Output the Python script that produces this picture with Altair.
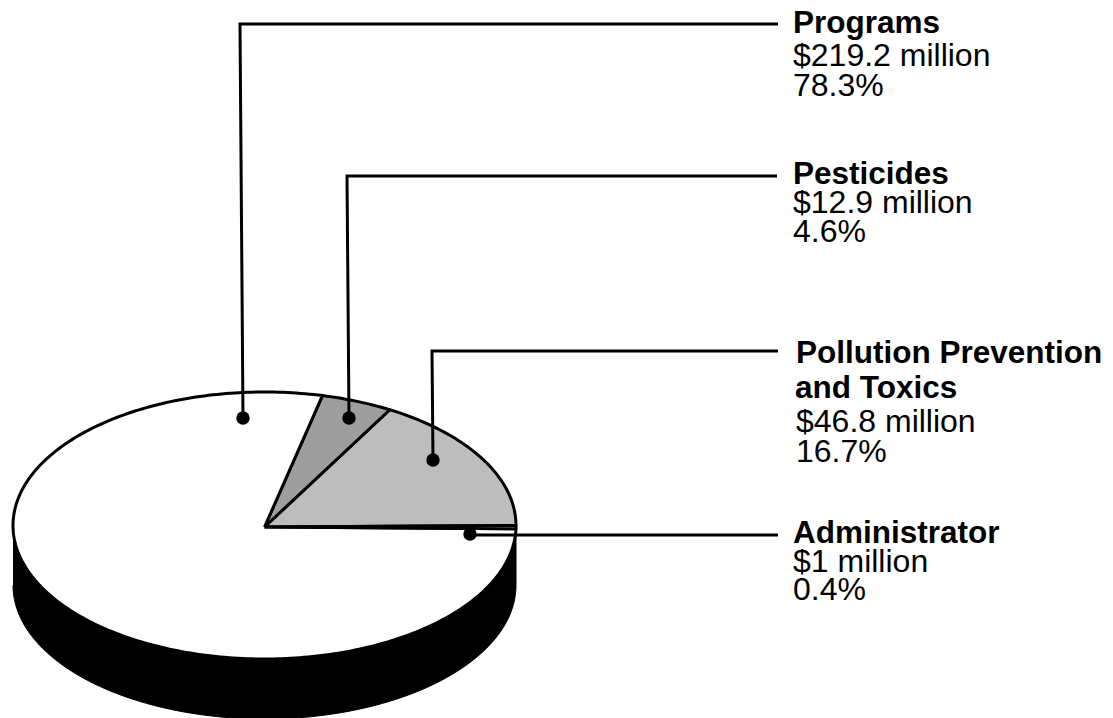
import numpy as np
import pandas as pd
import altair as alt

# ---- data
names = ["Pollution Prevention and Toxics", "Pesticides", "Programs", "Administrator"]
shares = [16.7, 4.6, 78.3, 0.4]
fills = ["#bdbdbd", "#9e9e9e", "#ffffff", "#ffffff"]

label_text = ["Programs", "$219.2 million", "78.3%",
              "Pesticides", "$12.9 million", "4.6%",
              "Pollution Prevention", "and Toxics", "$46.8 million", "16.7%",
              "Administrator", "$1 million", "0.4%"]
label_bold = [1, 0, 0, 1, 0, 0, 1, 1, 0, 0, 1, 0, 0]
label_x = [793, 793, 793, 793, 793, 793, 796, 795, 796, 796, 793, 793, 793]
label_y = [33, 66, 96, 184, 213, 242, 363, 398, 432, 462, 543, 572, 600]

leader_group = ["a", "a", "a", "b", "b", "b", "c", "c", "c", "d", "d"]
leader_x = [243, 240, 778, 349, 347, 777, 433, 432, 778, 470, 778]
leader_y = [418, 24, 24, 418, 176, 176, 460, 351, 351, 535, 535]
dot_x = [243, 349, 433, 470]
dot_y = [418, 418, 460, 534]

# ---- pie geometry on screen
CX, CY, RX, RY, DEPTH = 264.5, 525.5, 251.5, 133.5, 60

def ellipse(t_deg, dy=0.0):
    t = np.radians(t_deg)
    return CX + RX * np.cos(t), CY + dy - RY * np.sin(t)

rows = []
start = 0.0
for name, share, fill in zip(names, shares, fills):
    stop = start + share * 3.6
    ts = np.linspace(start, stop, max(3, int(share * 3.6)))
    xs, ys = ellipse(ts)
    xs = [CX, *xs, CX]
    ys = [CY + 1.5, *ys, CY + 1.5]
    for i, (x, y) in enumerate(zip(xs, ys)):
        rows.append(dict(slice=name, i=i, x=x, y=y, fill=fill))
    start = stop
sectors = pd.DataFrame(rows)

ts = np.linspace(180, 360, 91)
x1, y1 = ellipse(ts)
x2, y2 = ellipse(ts[::-1], DEPTH)
side = pd.DataFrame(dict(x=[*x1, *x2], y=[*y1, *y2], i=range(len(x1) + len(x2))))

leaders = pd.DataFrame(dict(g=leader_group, x=leader_x, y=leader_y))
leaders["i"] = range(len(leaders))
dots = pd.DataFrame(dict(x=dot_x, y=dot_y))
labels = pd.DataFrame(dict(t=label_text, b=label_bold, x=label_x, y=label_y))

X = alt.X("x:Q", axis=None, scale=alt.Scale(domain=[8, 1105], nice=False))
Y = alt.Y("y:Q", axis=None, scale=alt.Scale(domain=[8, 718], reverse=True, nice=False))

side_l = alt.Chart(side).mark_line(fill="#000000", stroke="#000000", strokeWidth=1).encode(
    x=X, y=Y, order="i:Q")

sector_layers = []
for name, fill in zip(names, fills):
    sector_layers.append(
        alt.Chart(sectors[sectors.slice == name]).mark_line(
            fill=fill, stroke="#000000", strokeWidth=3, strokeJoin="round"
        ).encode(x=X, y=Y, order="i:Q")
    )

leader_l = alt.Chart(leaders).mark_line(stroke="#000000", strokeWidth=3).encode(
    x=X, y=Y, detail="g:N", order="i:Q")
dot_l = alt.Chart(dots).mark_point(filled=True, color="#000000", size=180, opacity=1).encode(x=X, y=Y)

FONT = "Liberation Sans"
bold_l = alt.Chart(labels[labels.b == 1]).mark_text(
    font=FONT, fontSize=31.5, fontWeight="bold", align="left", baseline="alphabetic", color="#000000"
).encode(x=X, y=Y, text="t:N")
reg_l = alt.Chart(labels[labels.b == 0]).mark_text(
    font=FONT, fontSize=32, align="left", baseline="alphabetic", color="#000000"
).encode(x=X, y=Y, text="t:N")

chart = alt.layer(side_l, *sector_layers, leader_l, dot_l, bold_l, reg_l).properties(
    width=1097, height=710, padding=0, autosize=alt.AutoSizeParams(type="none"), background="#ffffff"
).configure_view(stroke=None)

chart.save("out.html", embed_options={"renderer": "svg", "actions": False})
